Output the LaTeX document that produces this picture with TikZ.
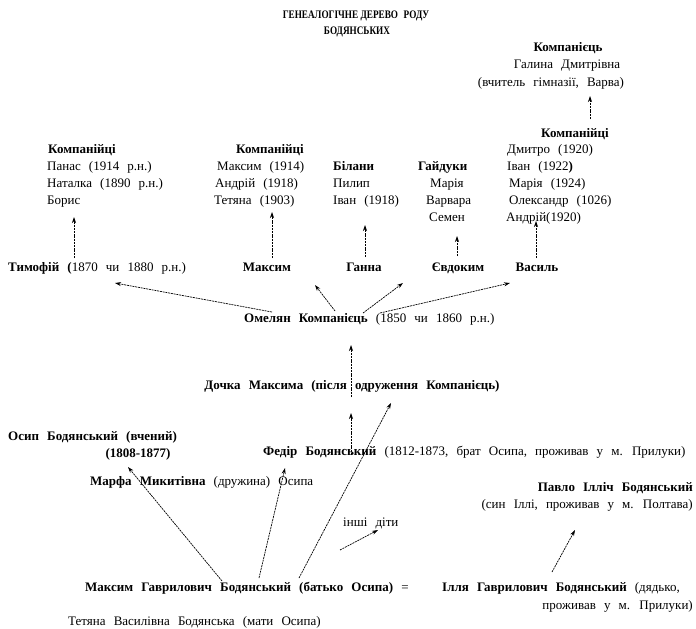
\documentclass[tikz,border=0pt]{standalone}
\usepackage{fontspec}
\setmainfont{Liberation Serif}[WordSpace=2.5]
\usetikzlibrary{arrows.meta}
\tikzset{
  txt/.style={inner sep=0pt, text height=9pt, text depth=3pt, font=\fontsize{13}{17}\selectfont},
  bf/.style={txt, font=\fontsize{13}{17}\selectfont\bfseries},
  ttl/.style={inner sep=0pt, text height=9pt, text depth=3pt, font=\fontsize{11.5}{16}\selectfont\bfseries},
  arr/.style={line width=0.7pt, dash pattern=on 2pt off 0.8pt, -{Stealth[length=6pt,width=4pt]}}
}
\begin{document}
\begin{tikzpicture}[x=1pt,y=-1pt]
\useasboundingbox (0,0) rectangle (696,629);
% title
\node[ttl] (t1) at (356,15) {\scalebox{0.8}[1]{ГЕНЕАЛОГІЧНЕ\hspace{3pt}ДЕРЕВО\hspace{7pt}РОДУ}};
\node[ttl] (t2) at (357,31) {\scalebox{0.8}[1]{БОДЯНСЬКИХ}};
% top right
\node[bf] (k0) at (568,48) {Компанієць};
\node[txt] (hal) at (567,65) {Галина Дмитрівна};
\node[txt] (vch) at (551,83) {(вчитель гімназії, Варва)};
% right group
\node[bf] (k4) at (575,134) {Компанійці};
\node[txt,anchor=west] (dm) at (507,150) {Дмитро (1920)};
\node[txt,anchor=west] (iv2) at (507,167) {Іван (1922\textbf{)}};
\node[txt,anchor=west] (ma2) at (509,184) {Марія (1924)};
\node[txt,anchor=west] (ol) at (509,201) {Олександр (1026)};
\node[txt,anchor=west] (an2) at (506,218) {Андрій(1920)};
% left group
\node[bf] (k1) at (82,150) {Компанійці};
\node[txt,anchor=west] (pan) at (47,167) {Панас (1914 р.н.)};
\node[txt,anchor=west] (nat) at (47,184) {Наталка (1890 р.н.)};
\node[txt,anchor=west] (bor) at (47,201) {Борис};
% middle group
\node[bf] (k2) at (270,150) {Компанійці};
\node[txt,anchor=west] (mx1) at (217,167) {Максим (1914)};
\node[txt,anchor=west] (an1) at (215,184) {Андрій (1918)};
\node[txt,anchor=west] (tet1) at (214,201) {Тетяна (1903)};
% Bilany
\node[bf,anchor=west] (bil) at (333,167) {Білани};
\node[txt,anchor=west] (pyl) at (333,184) {Пилип};
\node[txt,anchor=west] (iv1) at (333,201) {Іван (1918)};
% Haiduky
\node[bf,anchor=west] (hai) at (418,167) {Гайдуки};
\node[txt,anchor=west] (ma1) at (430,184) {Марія};
\node[txt,anchor=west] (var) at (426,201) {Варвара};
\node[txt,anchor=west] (sem) at (429,218) {Семен};
% children row
\node[txt,anchor=west] (tym) at (8,268) {\textbf{Тимофій (}1870 чи 1880 р.н.)};
\node[bf] (mxm) at (267,268) {Максим};
\node[bf] (han) at (364,268) {Ганна};
\node[bf] (evd) at (458,268) {Євдоким};
\node[bf] (vas) at (537,268) {Василь};
% Omelian
\node[txt,anchor=west] (om) at (244,319) {\textbf{Омелян Компанієць} (1850 чи 1860 р.н.)};
% Dochka
\node[bf] (doch) at (352,386) {Дочка Максима (після одруження Компанієць)};
% Osyp
\node[bf,anchor=west] (os) at (8,437) {Осип Бодянський (вчений)};
\node[bf] (osd) at (138,454) {(1808-1877)};
\node[txt,anchor=west] (fed) at (263,452) {\textbf{Федір Бодянський} (1812-1873, брат Осипа, проживав у м. Прилуки)};
\node[txt,anchor=west] (mar) at (90,482) {\textbf{Марфа Микитівна} (дружина) Осипа};
\node[bf,anchor=east] (pav) at (693,488) {Павло Ілліч Бодянський};
\node[txt,anchor=east] (pav2) at (693,505) {(син Іллі, проживав у м. Полтава)};
\node[txt,anchor=west] (insh) at (343,523) {інші діти};
\node[txt,anchor=west] (mg) at (85,588) {\textbf{Максим Гаврилович Бодянський (батько Осипа)} =};
\node[txt,anchor=west] (il) at (442,588) {\textbf{Ілля Гаврилович Бодянський} (дядько,};
\node[txt,anchor=east] (il2) at (693,606) {проживав у м. Прилуки)};
\node[txt,anchor=west] (tv) at (68,622) {Тетяна Василівна Бодянська (мати Осипа)};
% arrow end coordinates
\coordinate (a0s) at (590,119); \coordinate (a0e) at (590,96);
\coordinate (a1s) at (74,258);  \coordinate (a1e) at (74,217);
\coordinate (a2s) at (272,258); \coordinate (a2e) at (272,212);
\coordinate (a3s) at (365,257); \coordinate (a3e) at (365,225);
\coordinate (a4s) at (457,256); \coordinate (a4e) at (457,236);
\coordinate (a5s) at (536,258); \coordinate (a5e) at (536,221);
\coordinate (b1s) at (272,312); \coordinate (b1e) at (115,283);
\coordinate (b2s) at (335,311); \coordinate (b2e) at (315,285);
\coordinate (b3s) at (363,313); \coordinate (b3e) at (403,283);
\coordinate (b4s) at (380,313); \coordinate (b4e) at (510,283);
\coordinate (c1s) at (351,397); \coordinate (c1e) at (351,345);
\coordinate (c2s) at (351,455); \coordinate (c2e) at (351,413);
\coordinate (d1s) at (222,581); \coordinate (d1e) at (128,467);
\coordinate (d2s) at (259,578); \coordinate (d2e) at (285,468);
\coordinate (d3s) at (299,578); \coordinate (d3e) at (391,403);
\coordinate (d4s) at (340,550); \coordinate (d4e) at (378,530);
\coordinate (d5s) at (552,572); \coordinate (d5e) at (575,530);
\foreach \a in {a0,a1,a2,a3,a4,a5,b1,b2,b3,b4,c1,c2,d1,d2,d3,d4,d5}
  \draw[arr] (\a s) -- (\a e);
\end{tikzpicture}
\end{document}
